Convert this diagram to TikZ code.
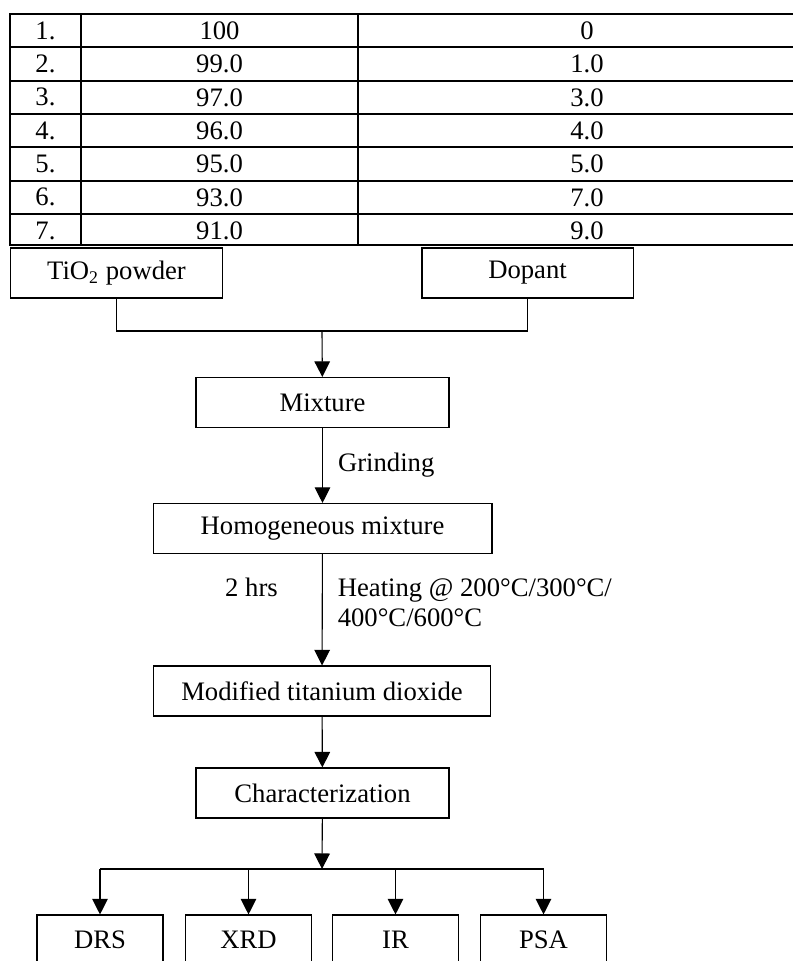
\documentclass[tikz,border=0pt]{standalone}
\usepackage{fontspec}
\setmainfont{Liberation Serif}
\usetikzlibrary{arrows.meta, positioning}

\begin{document}
\begin{tikzpicture}[
    x=0.45pt, y=-0.45pt,
    >={Triangle[length=7pt, width=7pt]},
    font=\fontsize{12}{13.5}\selectfont,
    box/.style={draw, rectangle, line width=0.5pt, minimum height=22.5pt, inner sep=0pt},
    smallbox/.style={box, minimum width=56.7pt},
    flow/.style={->, line width=0.5pt},
    link/.style={line width=0.5pt},
    tablerule/.style={line width=0.9pt},
    lbl/.style={inner sep=0pt}
  ]
  \useasboundingbox (0,0) rectangle (793,961);

  % --- TABELA ---
  \draw[tablerule] (10,14) rectangle (816,244.7);
  \foreach \k in {1,...,6}
    \draw[tablerule] (10,{14+33.33*\k}) -- (816,{14+33.33*\k});
  \draw[tablerule] (81,14) -- (81,244.7)
                   (358,14) -- (358,244.7);
  \foreach \idx/\tio/\dop [count=\i] in {1./100/0, 2./99.0/1.0, 3./97.0/3.0,
      4./96.0/4.0, 5./95.0/5.0, 6./93.0/7.0, 7./91.0/9.0} {
    \node[lbl] (idx\i) at (45.5,{30.7+33.33*(\i-1)}) {\idx};
    \node[lbl] (tio\i) at (219.5,{30.7+33.33*(\i-1)}) {\tio};
    \node[lbl] (dop\i) at (587,{30.7+33.33*(\i-1)}) {\dop};
  }

  % --- CAIXAS ---
  \node[box, minimum width=95pt] (tio) at (116.5,273) {TiO\textsubscript{2} powder};
  \node[box, minimum width=95pt] (dopant) at (527.5,273) {Dopant};
  \node[box, minimum width=113.85pt] (mix) at (322.5,402.5) {Mixture};
  \node[box, minimum width=152.5pt] (homog) at (322.5,528.5) {Homogeneous mixture};
  \node[box, minimum width=152pt] (modtio) at (322,691) {Modified titanium dioxide};
  \node[box, minimum width=113.85pt] (charac) at (322.5,793) {Characterization};
  \node[smallbox] (drs) at (100,940) {DRS};
  \node[smallbox] (xrd) at (248.5,940) {XRD};
  \node[smallbox] (ir) at (395.5,940) {IR};
  \node[smallbox] (psa) at (543.5,940) {PSA};

  \coordinate (merge) at (322,331);
  \coordinate (split) at (322,869);

  % --- LIGACOES ---
  \draw[link] (tio.south) |- (merge) -| (dopant.south);
  \draw[flow] (merge) -- (mix);
  \draw[flow] (mix) -- node[lbl, right=6.75pt] {Grinding} (homog);
  \draw[flow] (homog) -- node[lbl, pos=0.44, right=6.75pt, align=left] {Heating @ 200°C/300°C/\\400°C/600°C}
                         node[lbl, pos=0.30, left=19.8pt] {2 hrs} (modtio);
  \draw[flow] (modtio) -- (charac);
  \draw[flow] (charac) -- (split);
  \draw[link] (drs.north |- split) -- (psa.north |- split);
  \foreach \b in {drs, xrd, ir, psa}
    \draw[flow] (\b.north |- split) -- (\b);

\end{tikzpicture}
\end{document}
